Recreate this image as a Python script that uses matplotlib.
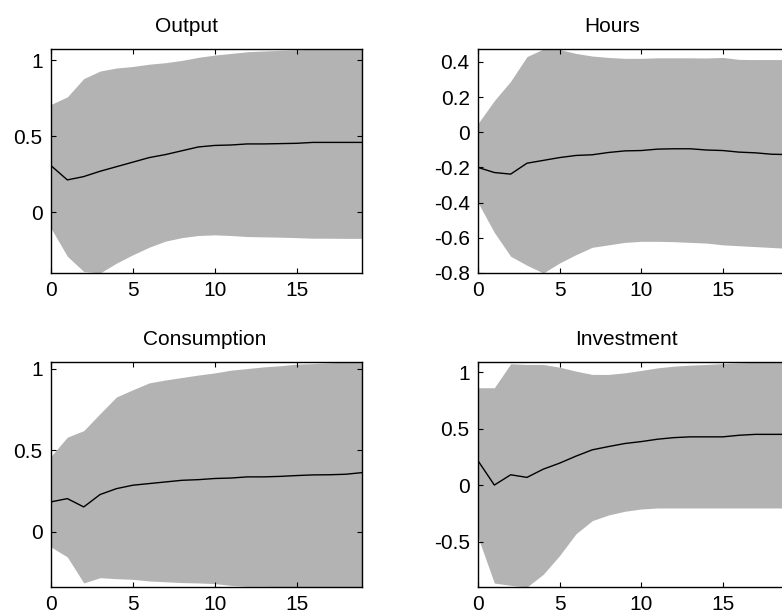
import numpy as np
import matplotlib
matplotlib.use('Agg')
import matplotlib.pyplot as plt
from matplotlib.ticker import FormatStrFormatter

#Horizon (quarters after the shock)
periods = np.arange(20)

#Output response: median and band
output_line = [0.307, 0.213, 0.235, 0.27, 0.30, 0.33, 0.36, 0.38, 0.405, 0.43,
               0.44, 0.443, 0.45, 0.45, 0.452, 0.454, 0.46, 0.46, 0.46, 0.46]
output_upper = [0.71, 0.76, 0.88, 0.93, 0.95, 0.96, 0.975, 0.985, 1.0, 1.02,
                1.035, 1.046, 1.057, 1.062, 1.066, 1.07, 1.073, 1.075, 1.075, 1.075]
output_lower = [-0.105, -0.29, -0.39, -0.40, -0.335, -0.28, -0.23, -0.19, -0.167, -0.153,
                -0.149, -0.153, -0.16, -0.162, -0.164, -0.167, -0.171, -0.171, -0.172, -0.172]

#Hours response
hours_line = [-0.20, -0.229, -0.238, -0.176, -0.16, -0.144, -0.132, -0.128, -0.115, -0.106,
              -0.104, -0.096, -0.094, -0.094, -0.101, -0.104, -0.113, -0.117, -0.125, -0.127]
hours_upper = [0.05, 0.18, 0.29, 0.43, 0.473, 0.47, 0.448, 0.433, 0.425, 0.42,
               0.42, 0.423, 0.423, 0.423, 0.422, 0.425, 0.414, 0.413, 0.413, 0.413]
hours_lower = [-0.40, -0.57, -0.705, -0.756, -0.80, -0.743, -0.696, -0.654, -0.64, -0.626,
               -0.62, -0.62, -0.622, -0.626, -0.63, -0.64, -0.645, -0.65, -0.655, -0.66]

#Consumption response
cons_line = [0.184, 0.204, 0.153, 0.229, 0.265, 0.286, 0.296, 0.306, 0.316, 0.32,
             0.327, 0.33, 0.337, 0.337, 0.34, 0.345, 0.349, 0.35, 0.353, 0.363]
cons_upper = [0.463, 0.58, 0.62, 0.724, 0.826, 0.87, 0.912, 0.93, 0.945, 0.96,
              0.973, 0.99, 1.0, 1.01, 1.017, 1.027, 1.03, 1.035, 1.04, 1.04]
cons_lower = [-0.092, -0.153, -0.312, -0.28, -0.286, -0.29, -0.30, -0.305, -0.31, -0.312,
              -0.316, -0.327, -0.333, -0.333, -0.335, -0.337, -0.337, -0.337, -0.337, -0.337]

#Investment response
inv_line = [0.215, 0.0, 0.091, 0.068, 0.141, 0.194, 0.256, 0.312, 0.341, 0.368,
            0.385, 0.406, 0.42, 0.427, 0.427, 0.427, 0.441, 0.449, 0.449, 0.449]
inv_upper = [0.862, 0.862, 1.074, 1.068, 1.068, 1.044, 1.009, 0.98, 0.98, 0.994,
             1.015, 1.038, 1.053, 1.062, 1.068, 1.076, 1.082, 1.088, 1.09, 1.09]
inv_lower = [-0.462, -0.868, -0.888, -0.903, -0.79, -0.624, -0.432, -0.315, -0.265, -0.232,
             -0.212, -0.203, -0.203, -0.203, -0.203, -0.203, -0.203, -0.203, -0.203, -0.203]

titles = ['Output', 'Hours', 'Consumption', 'Investment']
x_ticks = [0, 5, 10, 15]
y_ticks = [[0, 0.5, 1],
           [-0.8, -0.6, -0.4, -0.2, 0, 0.2, 0.4],
           [0, 0.5, 1],
           [-0.5, 0, 0.5, 1]]

plt.rcParams['font.family'] = ['Liberation Sans', 'DejaVu Sans']
plt.rcParams['axes.unicode_minus'] = False

fig = plt.figure(figsize=(7.82, 6.15), dpi=100)

#Axes placed like the MATLAB subplots (right column runs past the edge)
positions = [[0.0652, 0.5561, 0.3977, 0.3642],
             [0.6113, 0.5561, 0.3964, 0.3642],
             [0.0652, 0.0455, 0.3977, 0.3659],
             [0.6113, 0.0455, 0.3964, 0.3659]]
title_x = [0.437, 0.432, 0.495, 0.48]

series = [(output_line, output_upper, output_lower),
          (hours_line, hours_upper, hours_lower),
          (cons_line, cons_upper, cons_lower),
          (inv_line, inv_upper, inv_lower)]

for i, (line, upper, lower) in enumerate(series):
    ax = fig.add_axes(positions[i])
    ax.fill_between(periods, lower, upper, color='#b3b3b3', linewidth=0)
    ax.plot(periods, line, color='black', linewidth=1)
    #axis tight
    ax.set_xlim(0, 19)
    ax.set_ylim(min(lower), max(upper))
    ax.set_xticks(x_ticks)
    ax.set_yticks(y_ticks[i])
    ax.yaxis.set_major_formatter(FormatStrFormatter('%g'))
    ax.tick_params(direction='in', length=3.5, width=0.8, top=True, right=True,
                   labelsize=15, pad=6, colors='black')
    for sp in ax.spines.values():
        sp.set_linewidth(1.0)
        sp.set_color('black')
    ax.set_title(titles[i], fontsize=15, pad=12.5, x=title_x[i])

fig.savefig('out.png', dpi=100)
